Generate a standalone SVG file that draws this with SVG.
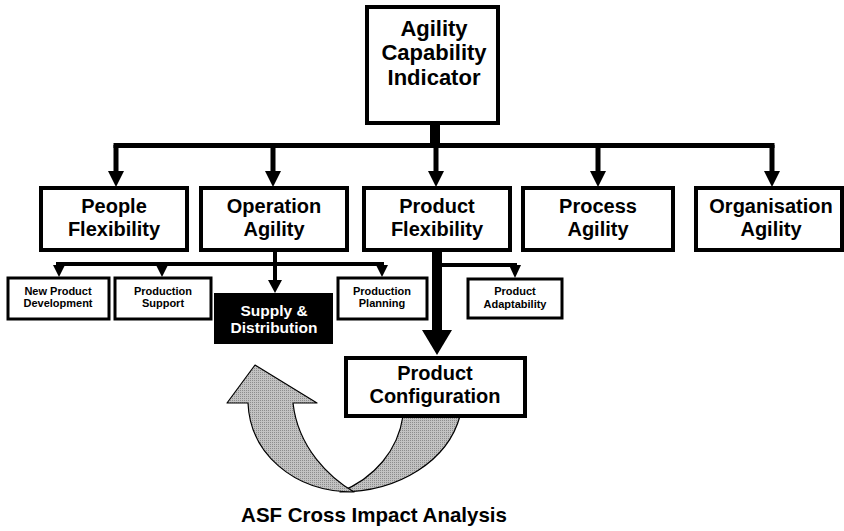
<svg xmlns="http://www.w3.org/2000/svg" width="844" height="531" viewBox="0 0 844 531">
  <style>
    text { font-family: "Liberation Sans", Arial, Helvetica, sans-serif; font-weight: bold; text-anchor: middle; fill: #000; }
    .box { fill: #fff; stroke: #000; stroke-width: 4; }
    .sub { fill: #fff; stroke: #000; stroke-width: 3; }
    .t22 { font-size: 22px; }
    .t20 { font-size: 20px; }
    .t15 { font-size: 15.5px; }
    .t11 { font-size: 11px; }
    .line { stroke: #000; fill: none; }
    .head { fill: #000; }
    .ribbon { fill: url(#stipple); stroke: #000; stroke-width: 1.2; stroke-linejoin: round; }
  </style>
  <defs>
    <pattern id="stipple" width="2" height="2" patternUnits="userSpaceOnUse">
      <rect width="2" height="2" fill="#c2c2c2"/>
      <rect width="1" height="1" fill="#8c8c8c"/>
    </pattern>
  </defs>

  <!-- connectors -->
  <g id="connectors">
    <!-- trunk from the top box to the main bar -->
    <rect x="430" y="103" width="10" height="43" fill="#000"/>
    <path class="line" stroke-width="5" d="M113.5 145.5 H774.5"/>
    <path class="line" stroke-width="5" d="M116 145 V173 M273 145 V173 M436 145 V173 M598 145 V173 M772 145 V173"/>
    <polygon class="head" points="108,171 124,171 116,187"/>
    <polygon class="head" points="265,171 281,171 273,187"/>
    <polygon class="head" points="428,171 444,171 436,187"/>
    <polygon class="head" points="590,171 606,171 598,187"/>
    <polygon class="head" points="764,171 780,171 772,187"/>

    <!-- operation agility branches -->
    <path class="line" stroke-width="4" d="M56 264 H384"/>
    <path class="line" stroke-width="4" d="M59 264 V268 M162 264 V268 M382 264 V268"/>
    <polygon class="head" points="53,265 65,265 59,277"/>
    <polygon class="head" points="156,265 168,265 162,277"/>
    <polygon class="head" points="376,265 388,265 382,277"/>
    <path class="line" stroke-width="4" d="M275 250 V282"/>
    <polygon class="head" points="268,280 282,280 275,293"/>

    <!-- product flexibility branches -->
    <rect x="432" y="250" width="10" height="82" fill="#000"/>
    <polygon class="head" points="422,330 452,330 437,355"/>
    <path class="line" stroke-width="4" d="M440 265 H517 M515 265 V268"/>
    <polygon class="head" points="509,265 521,265 515,278"/>

    <!-- cross impact loop arrow -->
    <path class="ribbon" d="M340 492 C400 492 448 460 460 416 L403 416 C398 450 375 478 340 492 Z"/>
    <path class="ribbon" d="M255 365 L317 403 L293 403 C298 448 330 478 354 492 C292 492 250 452 248 403 L227 403 Z"/>
  </g>

  <g id="agility-capability-indicator">
    <rect class="box" x="367" y="7" width="131" height="116"/>
    <text class="t22" x="434" y="36">Agility</text>
    <text class="t22" x="434" y="60">Capability</text>
    <text class="t22" x="434" y="85">Indicator</text>
  </g>

  <g id="people-flexibility">
    <rect class="box" x="41" y="188" width="146" height="62"/>
    <text class="t20" x="114" y="213">People</text>
    <text class="t20" x="114" y="236">Flexibility</text>
  </g>

  <g id="operation-agility">
    <rect class="box" x="201" y="188" width="146" height="62"/>
    <text class="t20" x="274" y="213">Operation</text>
    <text class="t20" x="274" y="236">Agility</text>
  </g>

  <g id="product-flexibility">
    <rect class="box" x="364" y="188" width="146" height="62"/>
    <text class="t20" x="437" y="213">Product</text>
    <text class="t20" x="437" y="236">Flexibility</text>
  </g>

  <g id="process-agility">
    <rect class="box" x="523" y="188" width="150" height="62"/>
    <text class="t20" x="598" y="213">Process</text>
    <text class="t20" x="598" y="236">Agility</text>
  </g>

  <g id="organisation-agility">
    <rect class="box" x="696" y="188" width="146" height="62"/>
    <text class="t20" x="771" y="213">Organisation</text>
    <text class="t20" x="771" y="236">Agility</text>
  </g>

  <g id="new-product-development">
    <rect class="sub" x="8" y="278" width="101" height="41"/>
    <text class="t11" x="58" y="295">New Product</text>
    <text class="t11" x="58" y="307">Development</text>
  </g>

  <g id="production-support">
    <rect class="sub" x="115" y="278" width="96" height="41"/>
    <text class="t11" x="163" y="295">Production</text>
    <text class="t11" x="163" y="307">Support</text>
  </g>

  <g id="supply-distribution">
    <rect x="214" y="293" width="119" height="51" fill="#000"/>
    <text class="t15" x="274" y="316" style="fill:#fff">Supply &amp;</text>
    <text class="t15" x="274" y="333" style="fill:#fff">Distribution</text>
  </g>

  <g id="production-planning">
    <rect class="sub" x="338" y="278" width="89" height="41"/>
    <text class="t11" x="382" y="295">Production</text>
    <text class="t11" x="382" y="307">Planning</text>
  </g>

  <g id="product-adaptability">
    <rect class="sub" x="468" y="279" width="94" height="39"/>
    <text class="t11" x="515" y="295">Product</text>
    <text class="t11" x="515" y="308">Adaptability</text>
  </g>

  <g id="product-configuration">
    <rect class="box" x="346" y="358" width="179" height="58"/>
    <text class="t20" x="435" y="380">Product</text>
    <text class="t20" x="435" y="403">Configuration</text>
  </g>

  <text class="t20" x="374" y="522" style="font-size:20.5px">ASF Cross Impact Analysis</text>
</svg>
